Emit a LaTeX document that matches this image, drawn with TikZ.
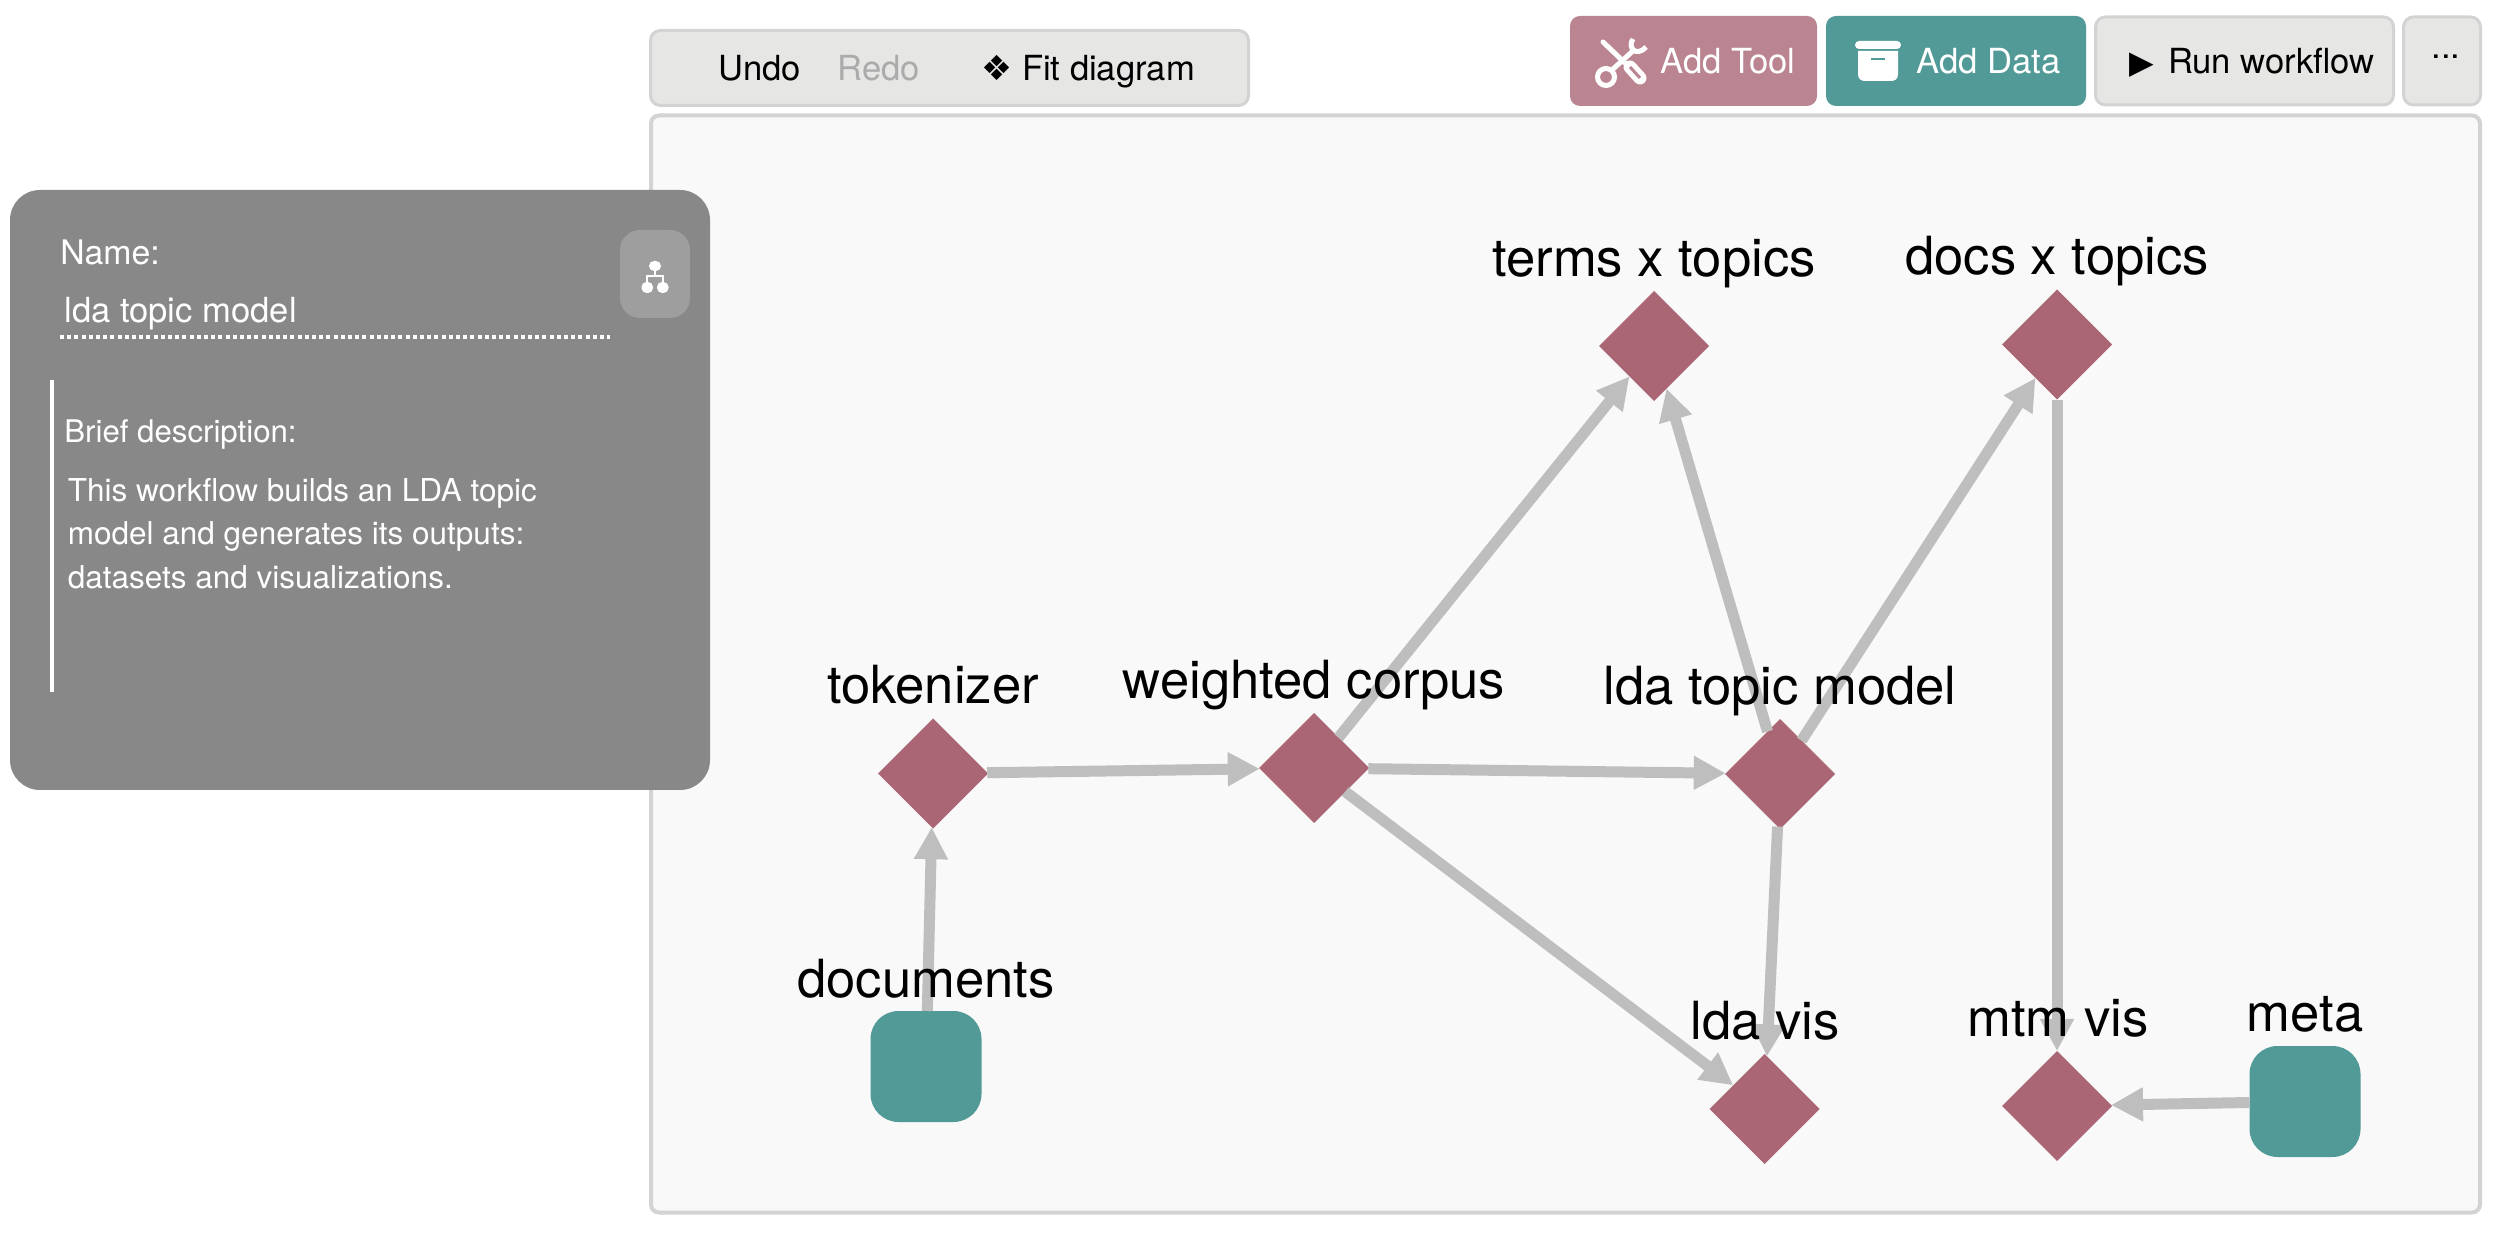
\documentclass[tikz,border=0pt]{standalone}
\usepackage{fontspec}
\setmainfont{TeX Gyre Heros}
\newfontfamily\symfont{DejaVu Sans}
\usepackage{xcolor}
\usetikzlibrary{arrows.meta,calc,shapes.geometric}
\definecolor{toolrose}{HTML}{AA6675}
\definecolor{toolbtn}{HTML}{BA8490}
\definecolor{datateal}{HTML}{519A97}
\definecolor{edgegray}{HTML}{BEBEBE}
\definecolor{btnfill}{HTML}{E6E7E5}
\definecolor{btnline}{HTML}{D3D3D3}
\definecolor{panelgray}{HTML}{888888}
\definecolor{canvasfill}{HTML}{F9F9F9}
\tikzset{
  tool/.style={diamond, aspect=1, fill=toolrose, minimum width=55pt, minimum height=55pt, inner sep=0pt, outer sep=0pt},
  data/.style={rectangle, rounded corners=14pt, fill=datateal, minimum width=55.5pt, minimum height=55.5pt, inner sep=0pt, outer sep=0pt},
  lab/.style={anchor=base, inner sep=0pt, font=\fontsize{26.3}{30}\selectfont},
  btn/.style={draw=btnline, line width=1.5pt, rounded corners=5pt, fill=btnfill, inner sep=0pt, outer sep=0pt},
  btntxt/.style={anchor=base west, inner sep=0pt, font=\fontsize{17.3}{20}\selectfont},
  paneltxt/.style={anchor=base west, inner sep=0pt, text=white, font=\fontsize{15.75}{21.75}\selectfont},
  arrow/.style={-{Triangle[length=16pt,width=16pt]}, line width=5.5pt, draw=edgegray},
}
\begin{document}
\begin{tikzpicture}[x=0.5pt,y=-0.5pt]
\useasboundingbox (0,0) rectangle (2496,1234);
\node[btn, minimum width=299pt, minimum height=37.5pt] (bar) at (949.5,68) {};
\node[btntxt] (undo) at (718,81) {Undo};
\node[btntxt, text=black!33] (redo) at (837,81) {Redo};
\node[btntxt] (fit) at (981,81) {{\symfont ❖} Fit diagram};
\node[rectangle, rounded corners=5pt, fill=toolbtn, minimum width=123.5pt, minimum height=45pt, inner sep=0pt] (addtool) at (1693.5,61) {};
\node[btntxt, text=white] (addtooltxt) at (1660,74) {Add Tool};
\node[rectangle, rounded corners=5pt, fill=datateal, minimum width=130pt, minimum height=45pt, inner sep=0pt] (adddata) at (1956,61) {};
\node[btntxt, text=white] (adddatatxt) at (1916,74) {Add Data};
\node[btn, minimum width=149pt, minimum height=44pt] (run) at (2244.5,61) {};
\node[btntxt] (runtxt) at (2129,74) {{\symfont\fontsize{16}{20}\selectfont ▶}\hspace{7pt}Run workflow};
\node[btn, minimum width=38.5pt, minimum height=44pt] (more) at (2442,61) {};
\node[btntxt] (moretxt) at (2431,59) {...};
\node[btn, line width=2pt, rounded corners=4pt, fill=canvasfill, minimum width=914.5pt, minimum height=548.5pt] (canvas) at (1565.5,664) {};
% graph
\node[tool] (terms) at (1654,346) {};
\node[tool] (docs) at (2057,344.5) {};
\node[tool] (tok) at (933,773.5) {};
\node[tool] (corpus) at (1314,768) {};
\node[tool] (lda) at (1780,774) {};
\node[tool] (ldavis) at (1764.5,1109) {};
\node[tool] (mtm) at (2057,1106) {};
\node[data] (documents) at (926,1066.5) {};
\node[data] (meta) at (2305,1101.5) {};
\draw[arrow] (documents) -- (tok);
\draw[arrow] (tok) -- (corpus);
\draw[arrow] (corpus) -- (terms);
\draw[arrow] (corpus) -- (lda);
\draw[arrow] (corpus) -- (ldavis);
\draw[arrow] (lda) -- (terms);
\draw[arrow] (lda) -- (docs);
\draw[arrow] (lda) -- (ldavis);
\draw[arrow] (docs) -- (mtm);
\draw[arrow] (meta) -- (mtm);
\node[lab] (termslab) at (1654,277) {terms x topics};
\node[lab] (docslab) at (2057,275) {docs x topics};
\node[lab] (toklab) at (933,703.5) {tokenizer};
\node[lab] (corpuslab) at (1314,698.5) {weighted corpus};
\node[lab] (ldalab) at (1780,704.5) {lda topic model};
\node[lab] (ldavislab) at (1765,1039.5) {lda vis};
\node[lab] (mtmlab) at (2058,1036) {mtm vis};
\node[lab] (documentslab) at (926,997) {documents};
\node[lab] (metalab) at (2305,1031.5) {meta};
% details panel
\node[rectangle, rounded corners=15pt, fill=panelgray, minimum width=350pt, minimum height=300pt, inner sep=0pt] (panel) at (360,490) {};
\node[rectangle, rounded corners=10pt, fill=black!38, minimum width=35pt, minimum height=44pt, inner sep=0pt] (orgbtn) at (655,274) {};
\node[paneltxt, font=\fontsize{16.9}{20}\selectfont] (namelab) at (60,264.5) {Name:};
\node[paneltxt, font=\fontsize{17.3}{20}\selectfont] (nameval) at (64,322.5) {lda topic model};
\draw[white, line width=2pt, dash pattern=on 2pt off 1.6pt] (60,337.5) -- (610,337.5);
\draw[white, line width=2pt] (52,380) -- (52,692);
\node[paneltxt, font=\fontsize{15.6}{20}\selectfont] (brieflab) at (64,442.5) {Brief description:};
\node[paneltxt] (brief1) at (67.5,501.5) {This workflow builds an LDA topic};
\node[paneltxt] (brief2) at (67.5,545) {model and generates its outputs:};
\node[paneltxt] (brief3) at (67.5,588.5) {datasets and visualizations.};
% icons
\draw[white, line width=1pt] (655,271) -- (655,276) (647,282) -- (647,276) -- (663,276) -- (663,282);
\fill[white, rounded corners=2.5pt] (649,261) rectangle (661,271);
\fill[white, rounded corners=2.5pt] (641.5,282) rectangle (653,293);
\fill[white, rounded corners=2.5pt] (657,282) rectangle (668.5,293);
\draw[white, line width=2.5pt, line cap=round] (1603,42) -- (1625,63);
\draw[white, line width=6.5pt, line cap=round] (1630,67) -- (1640,78);
\draw[toolbtn, line width=1.5pt] (1630,67) -- (1640,78);
\draw[white, line width=2.5pt] (1606,77) circle (8.5);
\draw[white, line width=2.5pt] (1612,70) -- (1634,50);
\draw[white, line width=2.5pt] (1633,39) .. controls (1627,47) and (1636,58) .. (1646,47);
\fill[white, rounded corners=2pt] (1855,41) rectangle (1901,49);
\fill[white] (1858,51) -- (1898,51) -- (1898,74) .. controls (1898,79) and (1895,81) .. (1891,81) -- (1865,81) .. controls (1861,81) and (1858,79) .. (1858,74) -- cycle;
\fill[datateal] (1871,58) rectangle (1885,60.5);
\end{tikzpicture}
\end{document}
